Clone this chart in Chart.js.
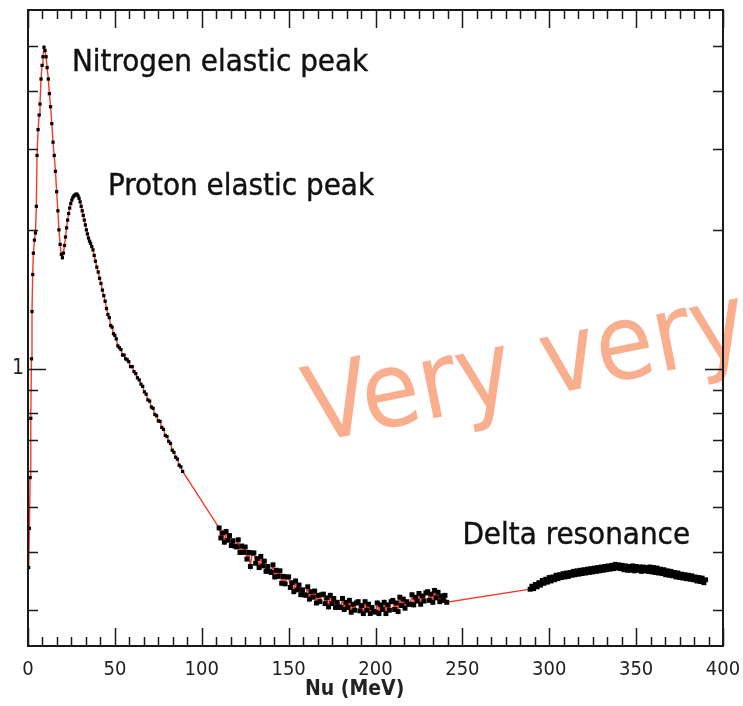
<!DOCTYPE html>
<html lang="en">
<head>
    <meta charset="UTF-8">
    <title>Nu spectrum</title>
    <script src="https://cdn.jsdelivr.net/npm/chart.js"></script>
    <style>
        body { margin: 0; background: #fff; }
        #chart { display: block; }
    </style>
</head>
<body>
    <canvas id="chart" width="743" height="706"></canvas>
    <script>
        // Elastic peaks region (0 - 90 MeV)
        const nuPeaks = [0.4, 0.8, 1.2, 1.6, 2.0, 2.3, 2.7, 3.1, 3.7, 4.3, 4.8, 5.2, 5.8, 6.4, 6.9, 7.5, 8.1, 8.6, 9.2, 9.8,
            10.4, 11.0, 11.7, 12.3, 13.0, 13.7, 14.4, 15.1, 15.8, 16.5, 17.2, 17.8, 18.5, 19.2, 19.8, 20.4, 21.0, 21.6, 22.2, 22.8,
            23.4, 24.0, 24.6, 25.2, 25.8, 26.4, 27.0, 27.6, 28.2, 28.8, 29.4, 30.0, 30.6, 31.2, 31.8, 32.4, 33.0, 33.6, 34.2, 34.8,
            35.4, 36.0, 36.7, 37.4, 38.1, 38.8, 39.6, 40.4, 41.2, 42.0, 42.8, 43.6, 44.4, 45.2, 46.0, 46.8, 47.6, 48.4, 49.2, 50.0,
            50.8, 51.7, 52.6, 53.5, 54.4, 55.3, 56.2, 57.1, 58.0, 59.0, 60.0, 61.0, 62.0, 63.0, 64.0, 65.0, 66.0, 67.0, 68.0, 69.0,
            70.0, 71.0, 72.0, 73.0, 74.0, 75.0, 76.0, 77.0, 78.0, 79.0, 80.0, 81.0, 82.0, 83.0, 84.0, 85.0, 86.0, 87.0, 88.0, 89.0];
        const yieldPeaks = [0.37, 0.45, 0.58, 0.78, 1.05, 1.33, 1.60, 1.78, 1.90, 1.97, 2.25, 2.90, 3.30, 3.55, 3.75, 4.25, 4.55, 4.75, 4.98, 4.90,
            4.75, 4.50, 4.25, 3.95, 3.70, 3.40, 3.10, 2.90, 2.68, 2.42, 2.20, 2.00, 1.86, 1.77, 1.74, 1.78, 1.85, 1.93, 2.02, 2.10,
            2.17, 2.23, 2.28, 2.32, 2.35, 2.37, 2.38, 2.39, 2.39, 2.37, 2.34, 2.30, 2.25, 2.20, 2.15, 2.10, 2.05, 2.00, 1.96, 1.92,
            1.89, 1.87, 1.84, 1.81, 1.76, 1.71, 1.66, 1.62, 1.57, 1.53, 1.48, 1.44, 1.40, 1.35, 1.31, 1.29, 1.24, 1.23, 1.19, 1.18,
            1.16, 1.12, 1.11, 1.10, 1.07, 1.07, 1.05, 1.045, 1.035, 1.01, 1.01, 0.985, 0.975, 0.955, 0.945, 0.925, 0.915, 0.89, 0.88, 0.855,
            0.85, 0.825, 0.82, 0.795, 0.79, 0.77, 0.768, 0.745, 0.738, 0.716, 0.712, 0.695, 0.688, 0.665, 0.658, 0.642, 0.636, 0.617, 0.612, 0.598];

        // Dip region (110 - 241 MeV)
        const nuDip = [110, 111, 112, 113, 114, 115, 116, 117, 118, 119, 120, 121, 122, 123, 124, 125, 126, 127, 128, 129,
            130, 131, 132, 133, 134, 135, 136, 137, 138, 139, 140, 141, 142, 143, 144, 145, 146, 147, 148, 149,
            150, 151, 152, 153, 154, 155, 156, 157, 158, 159, 160, 161, 162, 163, 164, 165, 166, 167, 168, 169,
            170, 171, 172, 173, 174, 175, 176, 177, 178, 179, 180, 181, 182, 183, 184, 185, 186, 187, 188, 189,
            190, 191, 192, 193, 194, 195, 196, 197, 198, 199, 200, 201, 202, 203, 204, 205, 206, 207, 208, 209,
            210, 211, 212, 213, 214, 215, 216, 217, 218, 219, 220, 221, 222, 223, 224, 225, 226, 227, 228, 229,
            230, 231, 232, 233, 234, 235, 236, 237, 238, 239, 240, 241];
        const yieldDip = [0.451, 0.429, 0.440, 0.420, 0.443, 0.424, 0.434, 0.413, 0.423, 0.412,
            0.410, 0.425, 0.399, 0.412, 0.399, 0.410, 0.386, 0.399, 0.372, 0.398,
            0.398, 0.378, 0.387, 0.370, 0.391, 0.373, 0.382, 0.363, 0.372, 0.363,
            0.361, 0.375, 0.353, 0.365, 0.354, 0.364, 0.342, 0.354, 0.341, 0.353,
            0.353, 0.335, 0.343, 0.328, 0.346, 0.331, 0.339, 0.323, 0.331, 0.323,
            0.322, 0.336, 0.316, 0.328, 0.319, 0.329, 0.310, 0.322, 0.312, 0.323,
            0.324, 0.309, 0.318, 0.304, 0.322, 0.309, 0.317, 0.303, 0.311, 0.304,
            0.303, 0.317, 0.300, 0.311, 0.303, 0.314, 0.296, 0.308, 0.299, 0.310,
            0.312, 0.298, 0.306, 0.294, 0.312, 0.299, 0.308, 0.294, 0.303, 0.297,
            0.296, 0.310, 0.294, 0.307, 0.300, 0.311, 0.294, 0.307, 0.299, 0.312,
            0.314, 0.300, 0.310, 0.297, 0.319, 0.306, 0.316, 0.302, 0.312, 0.308,
            0.308, 0.323, 0.307, 0.319, 0.313, 0.325, 0.308, 0.321, 0.313, 0.326,
            0.328, 0.314, 0.324, 0.311, 0.330, 0.318, 0.327, 0.312, 0.321, 0.314, 0.322, 0.311];

        // Delta resonance region (289 - 390 MeV)
        const nuDelta = [289, 290, 291, 292, 293, 294, 295, 296, 297, 298, 299, 300, 301, 302, 303, 304, 305, 306, 307, 308,
            309, 310, 311, 312, 313, 314, 315, 316, 317, 318, 319, 320, 321, 322, 323, 324, 325, 326, 327, 328,
            329, 330, 331, 332, 333, 334, 335, 336, 337, 338, 339, 340, 341, 342, 343, 344, 345, 346, 347, 348,
            349, 350, 351, 352, 353, 354, 355, 356, 357, 358, 359, 360, 361, 362, 363, 364, 365, 366, 367, 368,
            369, 370, 371, 372, 373, 374, 375, 376, 377, 378, 379, 380, 381, 382, 383, 384, 385, 386, 387, 388,
            389, 390];
        const yieldDelta = [0.332, 0.337, 0.333, 0.340, 0.336, 0.343, 0.339, 0.347, 0.342, 0.349,
            0.344, 0.352, 0.346, 0.353, 0.348, 0.356, 0.350, 0.357, 0.352, 0.359,
            0.353, 0.360, 0.354, 0.361, 0.356, 0.363, 0.357, 0.364, 0.358, 0.365,
            0.359, 0.366, 0.360, 0.367, 0.361, 0.368, 0.362, 0.369, 0.363, 0.370,
            0.364, 0.371, 0.365, 0.372, 0.366, 0.373, 0.367, 0.374, 0.368, 0.376,
            0.369, 0.375, 0.368, 0.374, 0.366, 0.373, 0.365, 0.372, 0.365, 0.373,
            0.364, 0.372, 0.365, 0.371, 0.363, 0.371, 0.364, 0.370, 0.363, 0.371,
            0.362, 0.370, 0.361, 0.369, 0.360, 0.367, 0.359, 0.366, 0.357, 0.364,
            0.356, 0.363, 0.355, 0.361, 0.353, 0.360, 0.352, 0.358, 0.351, 0.357,
            0.350, 0.356, 0.349, 0.355, 0.348, 0.353, 0.346, 0.352, 0.345, 0.351,
            0.343, 0.348];

        // Axis ticks
        const xMajorTicks = [0, 50, 100, 150, 200, 250, 300, 350, 400];
        const xMinorStep = 50 / 6;
        const yMajorTicks = [1];
        const yMinorTicks = [0.3, 0.4, 0.5, 0.6, 0.7, 0.8, 0.9, 2, 3, 4, 5];

        // Text labels, anchored in data units (nu, yield)
        const labels = [
            { text: 'Nitrogen elastic peak', nu: 25.3, y: 4.42 },
            { text: 'Proton elastic peak', nu: 46.0, y: 2.38 },
            { text: 'Delta resonance', nu: 250, y: 0.416 }
        ];
        const stamp = { text: 'Very very', nu: 164, y: 0.69, angle: -11.5 };

        const FONT = "'DejaVu Sans Condensed', 'DejaVu Sans', sans-serif";

        const points = [];
        nuPeaks.forEach((n, i) => points.push({ x: n, y: yieldPeaks[i] }));
        nuDip.forEach((n, i) => points.push({ x: n, y: yieldDip[i] }));
        nuDelta.forEach((n, i) => points.push({ x: n, y: yieldDelta[i] }));

        const decorations = {
            id: 'decorations',
            beforeDatasetsDraw(chart) {
                const ctx = chart.ctx;
                const xs = chart.scales.x, ys = chart.scales.y;
                ctx.save();
                ctx.translate(xs.getPixelForValue(stamp.nu), ys.getPixelForValue(stamp.y));
                ctx.rotate(stamp.angle * Math.PI / 180);
                ctx.font = '105px ' + FONT;
                ctx.fillStyle = 'rgb(249, 174, 142)';
                ctx.textBaseline = 'alphabetic';
                ctx.fillText(stamp.text, 0, 0);
                ctx.restore();
            },
            afterDraw(chart) {
                const ctx = chart.ctx;
                const a = chart.chartArea;
                const xs = chart.scales.x, ys = chart.scales.y;
                ctx.save();

                // annotations
                ctx.font = '31px ' + FONT;
                ctx.fillStyle = '#111';
                ctx.strokeStyle = '#111';
                ctx.lineWidth = 0.4;
                ctx.textBaseline = 'alphabetic';
                labels.forEach(l => {
                    const px = xs.getPixelForValue(l.nu), py = ys.getPixelForValue(l.y);
                    ctx.fillText(l.text, px, py);
                    ctx.strokeText(l.text, px, py);
                });

                // frame
                ctx.strokeStyle = '#1a1a1a';
                ctx.lineWidth = 2;
                ctx.strokeRect(a.left, a.top, a.right - a.left, a.bottom - a.top);

                // inward tick marks on all four sides
                ctx.lineWidth = 1.5;
                ctx.beginPath();
                for (let v = 0; v <= 400.01; v += xMinorStep) {
                    const major = xMajorTicks.some(m => Math.abs(m - v) < 0.01);
                    const len = major ? 18 : 9;
                    const px = Math.round(xs.getPixelForValue(v)) + 0.5;
                    ctx.moveTo(px, a.bottom); ctx.lineTo(px, a.bottom - len);
                    ctx.moveTo(px, a.top); ctx.lineTo(px, a.top + len);
                }
                yMajorTicks.concat(yMinorTicks).forEach(v => {
                    const len = yMajorTicks.includes(v) ? 18 : 10;
                    const py = Math.round(ys.getPixelForValue(v)) + 0.5;
                    ctx.moveTo(a.left, py); ctx.lineTo(a.left + len, py);
                    ctx.moveTo(a.right, py); ctx.lineTo(a.right - len, py);
                });
                ctx.stroke();

                // x axis title
                ctx.font = 'bold 21px ' + FONT;
                ctx.textAlign = 'center';
                ctx.textBaseline = 'middle';
                ctx.fillStyle = '#222';
                ctx.fillText('Nu (MeV)', xs.getPixelForValue(188), 690);
                ctx.restore();
            }
        };

        function noPad(s) {
            s.paddingLeft = 0; s.paddingRight = 0; s.paddingTop = 0; s.paddingBottom = 0;
        }

        const nPeaks = nuPeaks.length;

        new Chart(document.getElementById('chart'), {
            type: 'scatter',
            data: {
                datasets: [{
                    data: points,
                    showLine: true,
                    borderColor: 'rgb(240, 60, 40)',
                    borderWidth: 1.4,
                    pointStyle: 'rect',
                    pointRadius: ctx => ctx.dataIndex < nPeaks ? 2.3 : 3.5,
                    pointBorderWidth: 0,
                    pointBackgroundColor: '#000',
                    tension: 0
                }]
            },
            options: {
                responsive: false,
                animation: false,
                devicePixelRatio: 1,
                layout: { padding: { left: 0, right: 20, top: 10, bottom: 0 } },
                plugins: { legend: { display: false }, tooltip: { enabled: false } },
                scales: {
                    x: {
                        type: 'linear',
                        min: 0,
                        max: 400,
                        afterBuildTicks(s) { s.ticks = xMajorTicks.map(v => ({ value: v })); },
                        afterFit(s) { s.height = 60; noPad(s); },
                        grid: { display: false, drawTicks: false },
                        border: { display: false },
                        ticks: { color: '#222', font: { family: FONT, size: 20 }, padding: 12, maxRotation: 0, autoSkip: false }
                    },
                    y: {
                        type: 'logarithmic',
                        min: 0.25,
                        max: 6,
                        afterBuildTicks(s) { s.ticks = yMajorTicks.map(v => ({ value: v })); },
                        afterFit(s) { s.width = 28; noPad(s); },
                        grid: { display: false, drawTicks: false },
                        border: { display: false },
                        ticks: { color: '#222', font: { family: FONT, size: 21 }, padding: 4, autoSkip: false,
                            callback: v => String(v) }
                    }
                }
            },
            plugins: [decorations]
        });
    </script>
</body>
</html>
